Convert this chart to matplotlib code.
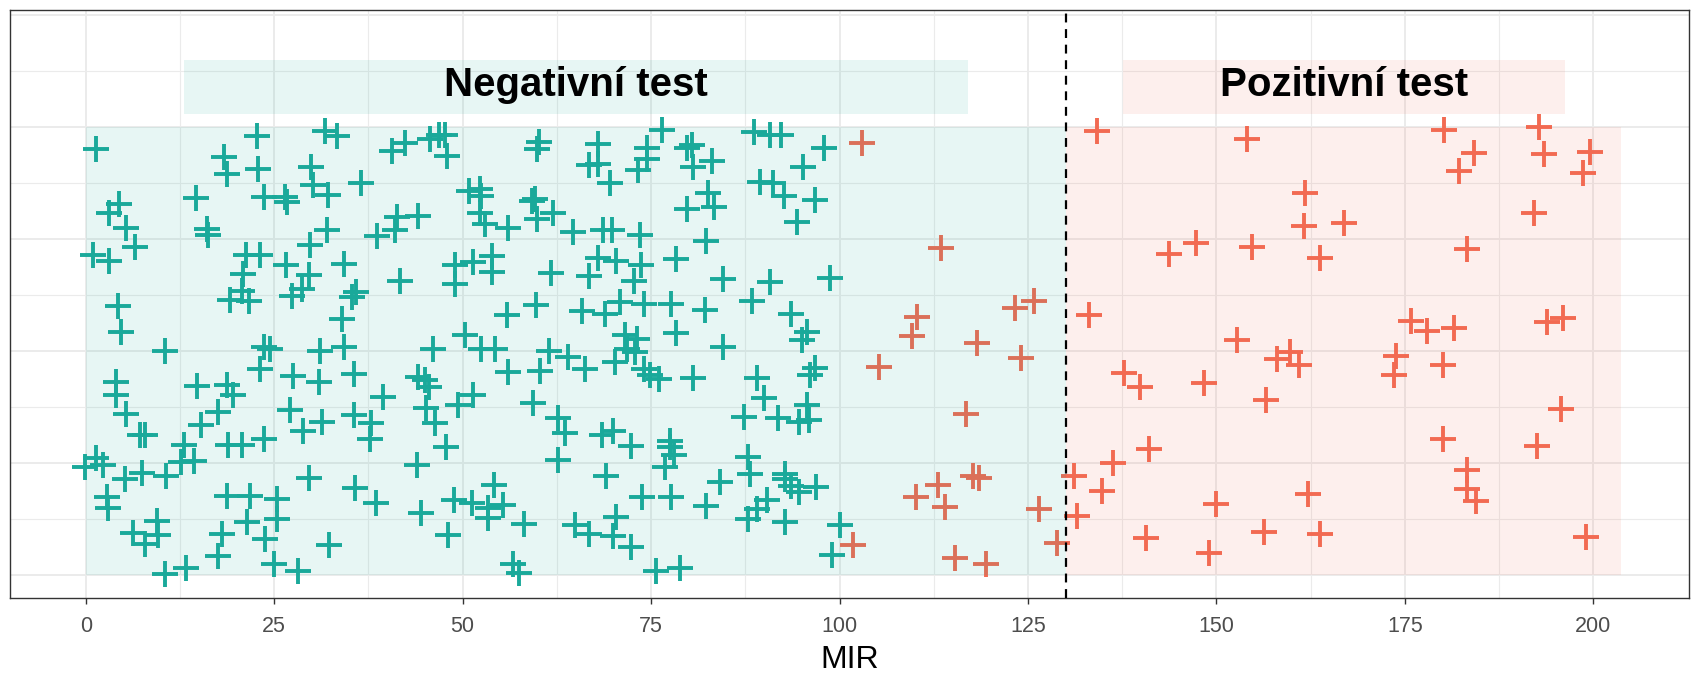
import matplotlib
matplotlib.use('Agg')
import matplotlib.pyplot as plt
from matplotlib.patches import Rectangle

plt.rcParams['font.family'] = ['Liberation Sans', 'DejaVu Sans']

# MIR hodnoty a náhodný svislý rozptyl (jitter)
neg_mir = [1.4, 22.7, 18.4, 18.8, 22.9, 29.9, 30.2, 23.6, 26.4, 26.7, 14.6, 4.4, 3.1, 5.4, 6.5, 0.9,
           3.1, 16.1, 16.2, 21.2, 23.1, 26.6, 20.8, 20.7, 19.2, 21.6, 29.8, 29.6, 28.7, 27.3, 4.3, 4.7,
           10.5, 23.6, 24.5, 31.1, 23.1, 27.5, 30.9, 4.0, 4.0, 14.8, 18.7, 19.6, 5.4, 17.5, 15.3, 27.1,
           28.8, 31.3, 7.2, 7.9, 13.0, 18.9, 20.7, 23.6, 14.3, 12.7, 1.4, -0.1, 2.3, 5.2, 7.4, 10.6,
           29.6, 2.8, 3.0, 18.7, 21.8, 25.4, 25.4, 21.4, 9.4, 6.3, 7.9, 9.6, 18.1, 23.8, 17.6, 25.0,
           28.2, 10.5, 13.3,
           31.8, 33.3, 40.6, 42.4, 45.7, 46.8, 47.6, 47.9, 60.1, 59.9, 36.5, 32.2, 32.0, 50.8, 52.3, 52.5,
           59.2, 59.6, 62.0, 59.8, 52.3, 53.0, 56.0, 41.3, 41.0, 44.1, 38.7, 64.7, 34.2, 35.9, 35.3, 41.7,
           49.0, 49.0, 51.4, 53.9, 53.9, 61.7, 55.9, 59.7, 34.0, 50.3,
           34.2, 46.1, 52.5, 54.3, 61.4, 64.0, 35.6, 44.1, 45.0, 45.5, 56.0, 60.2, 39.4, 51.4, 49.4, 59.3,
           35.6, 37.9, 37.7, 45.2, 46.3, 47.8, 62.7, 63.6, 62.7, 43.9, 35.7, 38.5, 44.5, 48.9, 51.2, 54.2,
           53.4, 53.4, 55.4, 58.2, 64.9, 48.1, 32.3, 56.7, 57.5,
           67.9, 66.8, 67.9, 69.5, 74.4, 74.4, 73.2, 76.5, 79.8, 80.4, 80.6, 83.1, 88.6, 90.8, 92.3, 98.0,
           95.1, 89.5, 91.2, 92.6, 96.8, 94.3, 82.6, 79.8, 83.3, 68.6, 69.8, 73.5, 82.3, 68.0, 70.4, 73.6,
           78.3, 66.7, 72.7, 84.6, 90.8, 98.8, 65.8, 68.9, 70.9, 74.0, 77.6, 82.2, 88.4, 93.5, 78.3, 71.5,
           73.1, 95.7, 95.0,
           84.6, 71.8, 72.9, 70.2, 74.0, 74.9, 76.0, 66.2, 80.6, 89.0, 90.0, 96.1, 96.8, 95.7, 94.6, 95.9,
           87.3, 91.9, 68.5, 69.9, 72.3, 77.5, 77.5, 78.1, 76.9, 87.9, 88.1, 69.0, 73.8, 77.6, 84.2, 82.3,
           92.8, 92.8, 93.5, 94.6, 96.9, 90.4, 89.0, 87.9, 92.8, 70.4, 70.0, 66.8, 72.3, 75.7, 78.8, 100.0,
           99.0]
neg_y = [0.95, 0.98, 0.933, 0.894, 0.906, 0.911, 0.87, 0.844, 0.844, 0.833, 0.842, 0.828, 0.807, 0.775, 0.732, 0.715,
         0.70, 0.772, 0.76, 0.715, 0.715, 0.693, 0.673, 0.634, 0.615, 0.612, 0.736, 0.669, 0.639, 0.622, 0.60, 0.542,
         0.50, 0.51, 0.505, 0.50, 0.461, 0.444, 0.432, 0.431, 0.403, 0.422, 0.425, 0.401, 0.36, 0.364, 0.334, 0.368,
         0.321, 0.342, 0.313, 0.313, 0.291, 0.29, 0.29, 0.303, 0.254, 0.252, 0.261, 0.241, 0.245, 0.215, 0.228, 0.222,
         0.217, 0.174, 0.15, 0.176, 0.176, 0.169, 0.126, 0.118, 0.12, 0.094, 0.07, 0.089, 0.092, 0.08, 0.042, 0.025,
         0.01, 0.003, 0.016,
         0.99, 0.98, 0.946, 0.965, 0.974, 0.981, 0.983, 0.935, 0.967, 0.95, 0.875, 0.849, 0.769, 0.857, 0.862, 0.847,
         0.834, 0.839, 0.807, 0.794, 0.807, 0.784, 0.775, 0.799, 0.771, 0.801, 0.757, 0.766, 0.695, 0.632, 0.621, 0.656,
         0.691, 0.65, 0.699, 0.712, 0.676, 0.675, 0.581, 0.602, 0.571, 0.536,
         0.509, 0.505, 0.505, 0.505, 0.50, 0.487, 0.449, 0.442, 0.436, 0.42, 0.453, 0.455, 0.397, 0.403, 0.379, 0.385,
         0.358, 0.339, 0.304, 0.373, 0.34, 0.286, 0.35, 0.318, 0.258, 0.246, 0.195, 0.161, 0.138, 0.167, 0.161, 0.202,
         0.15, 0.127, 0.157, 0.115, 0.111, 0.089, 0.068, 0.025, 0.004,
         0.961, 0.916, 0.918, 0.874, 0.953, 0.929, 0.903, 0.993, 0.952, 0.959, 0.911, 0.923, 0.989, 0.983, 0.981, 0.953,
         0.911, 0.877, 0.876, 0.847, 0.836, 0.789, 0.853, 0.816, 0.821, 0.769, 0.769, 0.76, 0.745, 0.708, 0.702, 0.693,
         0.706, 0.667, 0.656, 0.661, 0.655, 0.663, 0.59, 0.583, 0.609, 0.606, 0.606, 0.591, 0.611, 0.583, 0.541, 0.536,
         0.528, 0.542, 0.524,
         0.509, 0.505, 0.498, 0.475, 0.461, 0.446, 0.438, 0.46, 0.44, 0.44, 0.396, 0.447, 0.462, 0.379, 0.342, 0.347,
         0.353, 0.35, 0.312, 0.321, 0.288, 0.30, 0.286, 0.269, 0.241, 0.263, 0.226, 0.222, 0.174, 0.174, 0.208, 0.155,
         0.226, 0.215, 0.2, 0.185, 0.196, 0.167, 0.148, 0.126, 0.118, 0.129, 0.087, 0.092, 0.062, 0.01, 0.016, 0.113,
         0.045]

pos_mir = [103.0, 113.4, 110.3, 109.6, 118.3, 123.3, 125.8, 124.1, 105.3, 116.8, 117.7, 118.5, 113.1, 110.2,
           114.0, 126.5, 101.8, 115.3, 119.5, 128.8, 131.1, 131.5, 133.1, 134.2, 154.0, 161.8, 161.6, 166.9,
           163.8, 154.7, 143.7, 147.3, 152.7, 159.8, 158.0, 161.0, 137.7, 139.8, 148.4, 156.6, 141.1, 136.3,
           134.8, 149.9, 162.1, 140.7, 149.0, 156.3, 163.8, 180.2, 184.2, 182.2, 192.8, 193.5, 199.6, 198.6,
           192.1, 183.2, 175.8, 177.9, 181.5, 193.9, 196.0, 173.8, 173.6, 180.0, 195.7, 192.6, 180.0, 183.2,
           183.2, 184.4, 199.0]
pos_y = [0.965, 0.73, 0.576, 0.533, 0.519, 0.597, 0.612, 0.484, 0.464, 0.36, 0.222, 0.217, 0.202, 0.174,
         0.153, 0.148, 0.068, 0.038, 0.025, 0.072, 0.222, 0.133, 0.58, 0.99, 0.974, 0.853, 0.779, 0.786,
         0.708, 0.732, 0.717, 0.741, 0.524, 0.499, 0.483, 0.468, 0.452, 0.42, 0.429, 0.391, 0.282, 0.251,
         0.187, 0.158, 0.18, 0.083, 0.05, 0.096, 0.091, 0.993, 0.943, 0.901, 1.0, 0.94, 0.944, 0.898,
         0.808, 0.728, 0.567, 0.545, 0.552, 0.565, 0.574, 0.488, 0.447, 0.47, 0.371, 0.288, 0.303, 0.234,
         0.193, 0.166, 0.086]

cutoff = 130
labels = ['Negativní test', 'Pozitivní test']

teal = '#1AA99A'
orange = '#F26A52'

fig = plt.figure(figsize=(16.98, 6.79), dpi=100)
ax = fig.add_axes([10/1698, 1 - 598/679, 1679/1698, 588/679])

ax.set_xlim(-10.05, 212.7)
ax.set_ylim(-0.051, 1.261)

# mřížka jako v theme_bw
for xv in range(0, 201, 25):
    ax.axvline(xv, color='#EBEBEB', lw=1.4, zorder=0)
for xv in [12.5 + 25 * i for i in range(8)]:
    ax.axvline(xv, color='#EBEBEB', lw=0.8, zorder=0)
for yv in [0, 0.25, 0.5, 0.75, 1.0, 1.25]:
    ax.axhline(yv, color='#EBEBEB', lw=1.4, zorder=0)
for yv in [0.125, 0.375, 0.625, 0.875, 1.125]:
    ax.axhline(yv, color='#EBEBEB', lw=0.8, zorder=0)

ax.plot(neg_mir, neg_y, ls='none', marker='+', ms=19, mew=2.8, color=teal, zorder=2)
ax.plot(pos_mir, pos_y, ls='none', marker='+', ms=19, mew=2.8, color=orange, zorder=2)

# poloprůhledné oblasti přes body
ax.add_patch(Rectangle((0, 0), cutoff, 1, facecolor=teal, alpha=0.1, lw=0, zorder=3))
ax.add_patch(Rectangle((cutoff, 0), 203.7 - cutoff, 1, facecolor=orange, alpha=0.1, lw=0, zorder=3))
ax.add_patch(Rectangle((13.05, 1.03), 117.0 - 13.05, 0.12, facecolor=teal, alpha=0.1, lw=0, zorder=3))
ax.add_patch(Rectangle((137.6, 1.03), 196.3 - 137.6, 0.12, facecolor=orange, alpha=0.1, lw=0, zorder=3))

ax.text(65.0, 1.094, labels[0], ha='center', va='center', fontsize=29, fontweight='bold', zorder=4)
ax.text(167.0, 1.094, labels[1], ha='center', va='center', fontsize=29, fontweight='bold', zorder=4)

ax.axvline(cutoff, color='black', lw=1.6, ls=(0, (4, 3)), zorder=4)

ax.set_xticks(range(0, 201, 25))
ax.set_yticks([])
ax.tick_params(axis='x', length=4, width=1, color='#333333', labelsize=15.5, labelcolor='#4D4D4D', pad=9)
ax.set_xlabel('MIR', fontsize=23, labelpad=6)
for s in ax.spines.values():
    s.set_color('#333333')
    s.set_linewidth(1.0)

fig.savefig('out.png', dpi=100)
